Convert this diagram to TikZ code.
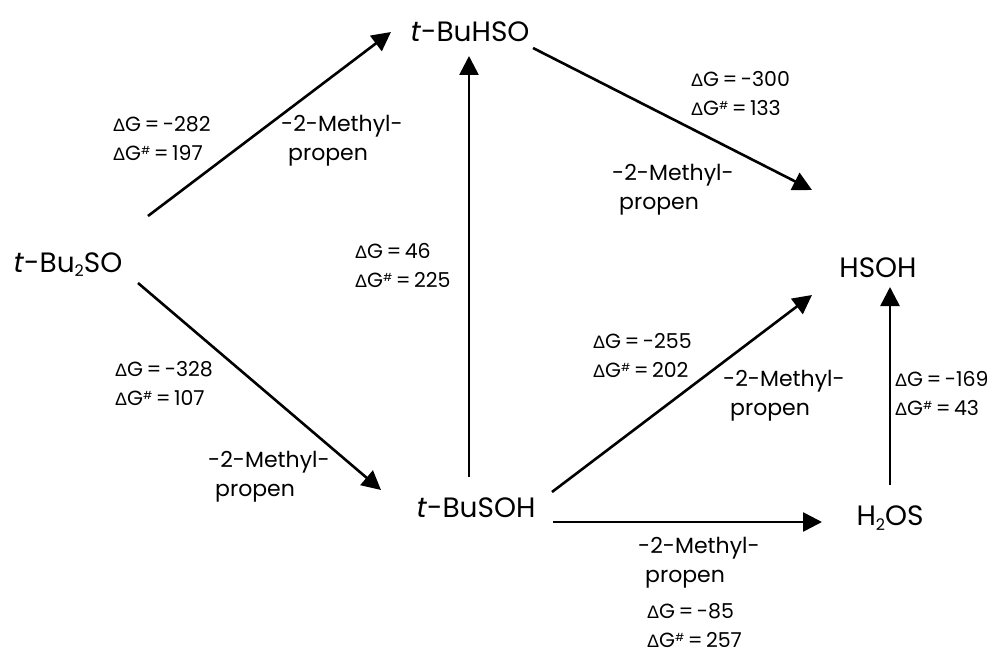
\documentclass[tikz,border=0pt]{standalone}
\usepackage{fontspec}
\setmainfont{Poppins}
\newfontfamily\deltafont{Liberation Sans}
\usetikzlibrary{arrows.meta}

% small Delta set in a font that has Greek
\newcommand{\smalldelta}{{\deltafont\fontsize{18}{18}\selectfont Δ}}
% small raised hash mark
\newcommand{\barrier}{\raisebox{6pt}{\fontsize{11}{11}\selectfont\#}}
% free energy pair: reaction energy and barrier
\newcommand{\energypair}[2]{\smalldelta G\,=\,#1\\\smalldelta G\barrier\,=\,#2}
% isobutene loss
\newcommand{\lossnote}{-2-Methyl-\\\hspace*{7pt}propen}
% lowered small index
\newcommand{\lowidx}[1]{\raisebox{-5pt}{\fontsize{16}{16}\selectfont #1}}

\tikzset{
  species/.style={font=\fontsize{28}{30}\selectfont, inner sep=0pt, anchor=base},
  energy/.style={font=\fontsize{20.5}{29}\selectfont, align=left, inner sep=0pt, anchor=north west},
  loss/.style={font=\fontsize{22}{29}\selectfont, align=left, inner sep=0pt, anchor=north west},
  rxn/.style={line width=2.6pt, -{Triangle[length=19pt,width=19pt]}},
}

\begin{document}
\begin{tikzpicture}[x=1pt,y=-1pt]
\fill[white] (0,0) rectangle (993,655);
\useasboundingbox (0,0) rectangle (993,655);

% species
\node[species] (bu2so) at (68,272) {\textit{t}-Bu\lowidx{2}SO};
\node[species] (buhso) at (470,42) {\textit{t}-BuHSO};
\node[species] (hsoh)  at (878,277) {HSOH};
\node[species] (busoh) at (476,517) {\textit{t}-BuSOH};
\node[species] (h2os)  at (890,525) {H\lowidx{2}OS};

% reactions
\draw[rxn] ([shift={(80,-56)}]bu2so.base) -- ([shift={(-79,-10)}]buhso.base);
\draw[rxn] ([shift={(70,11)}]bu2so.base) -- ([shift={(-95,-27)}]busoh.base);
\draw[rxn] ([shift={(-7,-40)}]busoh.base) -- ([shift={(-1,14)}]buhso.base);
\draw[rxn] ([shift={(63,6)}]buhso.base) -- ([shift={(-66,-87)}]hsoh.base);
\draw[rxn] ([shift={(76,-25)}]busoh.base) -- ([shift={(-66,18)}]hsoh.base);
\draw[rxn] ([shift={(77,5)}]busoh.base) -- ([shift={(-68,-3)}]h2os.base);
\draw[rxn] ([shift={(0,-40)}]h2os.base) -- ([shift={(12,10)}]hsoh.base);

% energies
\node[energy] (e1) at (113,116) {\energypair{-282}{197}};
\node[energy] (e2) at (691,71)  {\energypair{-300}{133}};
\node[energy] (e3) at (355,243) {\energypair{46}{225}};
\node[energy] (e4) at (593,333) {\energypair{-255}{202}};
\node[energy] (e5) at (895,371) {\energypair{-169}{43}};
\node[energy] (e6) at (115,361) {\energypair{-328}{107}};
\node[energy] (e7) at (647,603) {\energypair{-85}{257}};

% eliminated isobutene
\node[loss] (m1) at (281,115) {\lossnote};
\node[loss] (m2) at (612,164) {\lossnote};
\node[loss] (m3) at (723,370) {\lossnote};
\node[loss] (m4) at (208,451) {\lossnote};
\node[loss] (m5) at (638,537) {\lossnote};
\end{tikzpicture}
\end{document}
